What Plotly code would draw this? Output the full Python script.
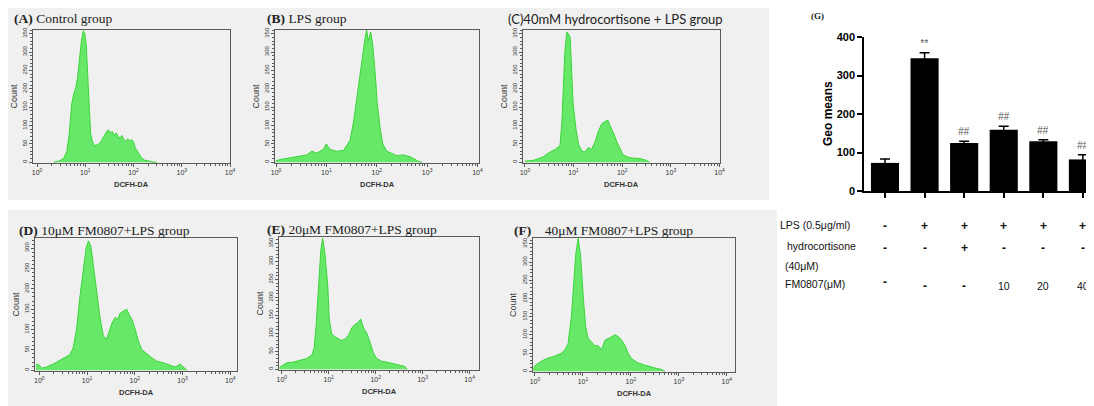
import plotly.graph_objects as go

W, H = 1094, 406          # browser window
OFF = 8                   # page body margin around the plot div
FW, FH = W - OFF, H - OFF # figure size so it fits in the window

# ---------------- data ----------------
# histograms: log10(DCFH-DA fluorescence) and event count
logA = [0.35, 0.45, 0.55, 0.62, 0.67, 0.72, 0.76, 0.80, 0.84, 0.88, 0.92, 0.96, 0.99, 1.02, 1.05, 1.08, 1.11,
        1.15, 1.20, 1.25, 1.30, 1.35, 1.40, 1.45, 1.48, 1.52, 1.56, 1.60, 1.64, 1.68, 1.72, 1.76, 1.80,
        1.84, 1.88, 1.92, 1.96, 2.00, 2.04, 2.08, 2.12, 2.17, 2.22, 2.30, 2.40, 2.48]
cntA = [0, 3, 10, 30, 80, 160, 185, 200, 230, 280, 330, 358, 350, 320, 250, 150, 80,
        55, 45, 48, 52, 62, 75, 85, 88, 80, 84, 72, 80, 70, 66, 73, 62,
        57, 64, 58, 62, 55, 38, 30, 22, 12, 6, 3, 1, 0]

logB = [0.0, 0.10, 0.28, 0.45, 0.61, 0.71, 0.81, 0.94, 1.00, 1.07, 1.20, 1.34, 1.40, 1.47, 1.54, 1.60,
        1.67, 1.72, 1.77, 1.80, 1.83, 1.88, 1.92, 1.97, 2.01, 2.07, 2.12, 2.20, 2.30, 2.40, 2.53,
        2.66, 2.76, 2.83, 2.90]
cntB = [4, 8, 12, 17, 20, 30, 25, 35, 50, 35, 30, 32, 45, 60, 110, 170,
        250, 300, 340, 360, 330, 355, 320, 240, 160, 90, 50, 30, 25, 18, 20,
        15, 8, 2, 0]

logC = [0.0, 0.17, 0.38, 0.48, 0.62, 0.72, 0.76, 0.79, 0.82, 0.86, 0.89, 0.93, 0.96, 0.99, 1.05, 1.10,
        1.17, 1.24, 1.30, 1.37, 1.44, 1.51, 1.58, 1.65, 1.70, 1.75, 1.82, 1.89, 1.96, 2.02, 2.16,
        2.37, 2.50, 2.56]
cntC = [3, 5, 15, 25, 35, 45, 110, 200, 300, 355, 350, 340, 250, 160, 90, 50,
        30, 28, 40, 35, 55, 85, 105, 110, 115, 100, 80, 55, 35, 20, 12,
        10, 5, 0]

logD = [-0.07, 0.0, 0.05, 0.15, 0.29, 0.43, 0.57, 0.64, 0.71, 0.78, 0.85, 0.92, 0.98, 1.03, 1.08, 1.13,
        1.20, 1.27, 1.34, 1.40, 1.45, 1.52, 1.59, 1.64, 1.69, 1.76, 1.83, 1.89, 1.94, 2.01, 2.08,
        2.15, 2.25, 2.36, 2.46, 2.60, 2.74, 2.85, 2.95, 3.02, 3.09]
cntD = [15, 12, 5, 8, 15, 25, 35, 38, 55, 100, 180, 240, 300, 318, 305, 260,
        200, 130, 85, 75, 90, 115, 130, 125, 140, 145, 150, 135, 125, 100, 70,
        50, 40, 30, 22, 18, 12, 8, 15, 8, 0]

logE = [-0.05, 0.0, 0.11, 0.25, 0.39, 0.53, 0.64, 0.69, 0.73, 0.78, 0.83, 0.87, 0.92, 0.98, 1.01, 1.06,
        1.13, 1.21, 1.28, 1.35, 1.42, 1.49, 1.56, 1.63, 1.68, 1.74, 1.81, 1.88, 1.95, 2.02, 2.13,
        2.23, 2.38, 2.52, 2.62, 2.67]
cntE = [5, 10, 18, 20, 25, 30, 40, 60, 120, 220, 330, 365, 320, 230, 140, 100,
        90, 85, 80, 85, 95, 115, 125, 130, 140, 115, 100, 75, 45, 30, 22,
        20, 15, 10, 8, 0]

logF = [-0.03, 0.0, 0.10, 0.24, 0.38, 0.49, 0.56, 0.63, 0.69, 0.76, 0.81, 0.85, 0.90, 0.95, 1.01, 1.06,
        1.11, 1.18, 1.25, 1.32, 1.39, 1.46, 1.53, 1.60, 1.67, 1.74, 1.81, 1.88, 1.94, 2.01, 2.12,
        2.26, 2.40, 2.53, 2.64, 2.71]
cntF = [5, 15, 25, 35, 40, 45, 50, 60, 75, 150, 250, 320, 365, 320, 200, 120,
        90, 80, 70, 70, 60, 85, 90, 95, 100, 95, 85, 70, 50, 35, 25,
        18, 12, 8, 5, 0]

panel_titles = ["<b>(A)</b> Control group", "<b>(B)</b> LPS group",
                "(C)40mM hydrocortisone + LPS group",
                "<b>(D)</b> 10μM FM0807+LPS group", "<b>(E)</b> 20μM FM0807+LPS group",
                "<b>(F)</b>    40μM FM0807+LPS group"]
hist_logs = [logA, logB, logC, logD, logE, logF]
hist_counts = [cntA, cntB, cntC, cntD, cntE, cntF]

# bar chart (G)
bar_groups = ["Control", "LPS", "Hydrocortisone+LPS", "FM0807 10", "FM0807 20", "FM0807 40"]
geo_means = [73, 345, 125, 159, 129, 82]
geo_err = [10, 14, 4, 9, 4, 12]
sig_marks = ["", "**", "##", "##", "##", "##"]
lps_row = ["-", "+", "+", "+", "+", "+"]
hc_row = ["-", "-", "+", "-", "-", "-"]
fm_row = ["-", "-", "-", "10", "20", "40"]
x_tick_vals = [1, 10, 100, 1000, 10000]
x_tick_text = ["10<sup>0</sup>", "10<sup>1</sup>", "10<sup>2</sup>", "10<sup>3</sup>", "10<sup>4</sup>"]

# ---------------- layout helpers (window pixels -> paper) ----------------
def px(x):
    return (x - OFF) / FW

def py(y):
    return 1 - (y - OFF) / FH

# box: left, right, top, bottom (px); x log range; y max; title pos; title font
panels = [
    dict(box=(33, 230, 30, 163), xr=(-0.083, 4.0), ymax=360, yt=350, tx=12, ty=18, font="Liberation Serif"),
    dict(box=(275, 479, 30, 163), xr=(-0.02, 4.03), ymax=360, yt=350, tx=265, ty=18, font="Liberation Serif"),
    dict(box=(523, 720, 30, 163), xr=(-0.04, 4.01), ymax=360, yt=350, tx=506, ty=19, font="Lato"),
    dict(box=(35, 237, 238, 371), xr=(-0.09, 4.14), ymax=325, yt=300, tx=17, ty=230, font="Liberation Serif"),
    dict(box=(279, 479, 237, 370), xr=(-0.06, 4.2), ymax=368, yt=350, tx=265, ty=229, font="Liberation Serif"),
    dict(box=(533, 735, 238, 372), xr=(-0.04, 4.17), ymax=366, yt=350, tx=512, ty=230, font="Liberation Serif"),
]

fig = go.Figure()

GRAY_BG = "#f0f0f0"
fig.add_shape(type="rect", xref="paper", yref="paper", x0=px(0), x1=px(769), y0=py(200), y1=py(0),
              fillcolor=GRAY_BG, line_width=0, layer="below")
fig.add_shape(type="rect", xref="paper", yref="paper", x0=px(0), x1=px(777), y0=py(410), y1=py(210),
              fillcolor=GRAY_BG, line_width=0, layer="below")

minor_x = [m * 10 ** e for e in range(0, 4) for m in range(2, 10)]
annotations = []
box_color = "#5a5a5a"

def ann(**kw):
    d = dict(showarrow=False, xanchor="center", yanchor="middle")
    d.update(kw)
    annotations.append(d)

def sfx(n):
    return "" if n == 1 else str(n)

for i, p in enumerate(panels):
    n = i + 1
    s = sfx(n)
    l, r, t, b = p["box"]
    xs = [10 ** v for v in hist_logs[i]]
    fig.add_trace(go.Scatter(
        x=xs, y=hist_counts[i], mode="lines", fill="tozeroy",
        line=dict(color="rgb(58,212,58)", width=1),
        fillcolor="rgb(104,232,104)", xaxis=f"x{s}", yaxis=f"y{s}", hoverinfo="skip"))
    fig.layout[f"xaxis{s}"] = dict(
        domain=[px(l), px(r)], anchor=f"y{s}", type="log", range=list(p["xr"]), automargin=False,
        showline=True, mirror=True, linecolor=box_color, linewidth=1,
        tickmode="array", tickvals=x_tick_vals, ticktext=x_tick_text,
        ticks="outside", ticklen=3, tickcolor=box_color,
        tickfont=dict(size=7, family="Liberation Sans", color="#333"),
        minor=dict(ticks="outside", ticklen=2, tickmode="array", tickvals=minor_x, tickcolor=box_color),
        showgrid=False, zeroline=False)
    fig.layout[f"yaxis{s}"] = dict(
        domain=[py(b), py(t)], anchor=f"x{s}", range=[-2, p["ymax"]], automargin=False,
        showline=True, mirror=True, linecolor=box_color, linewidth=1,
        tickmode="array", tickvals=list(range(0, p["yt"] + 1, 50)),
        ticks="outside", ticklen=3, tickcolor=box_color, tickangle=-90,
        tickfont=dict(size=6, family="Liberation Sans", color="#333"),
        minor=dict(ticks="outside", ticklen=2, dtick=10, tick0=0, tickcolor=box_color),
        showgrid=False, zeroline=False)
    ann(text=panel_titles[i], xref="paper", yref="paper", x=px(p["tx"]), y=py(p["ty"]), xanchor="left",
        font=dict(family=p["font"], size=13.5 if p["font"] != "Lato" else 13, color="#222"))
    ann(text="Count", xref="paper", yref=f"y{s} domain", x=px(l - 20), y=0.5, textangle=-90,
        font=dict(family="Liberation Sans", size=9, color="#333"))
    ann(text="<b>DCFH-DA</b>", xref=f"x{s} domain", yref="paper", x=0.5, y=py(b + 21),
        font=dict(family="Liberation Sans", size=7.5, color="#333"))

# ---------------- bar chart (G) ----------------
cats = list(range(len(geo_means)))
fig.add_trace(go.Bar(
    x=cats, y=geo_means, width=0.71, marker=dict(color="black", line=dict(width=0)),
    error_y=dict(type="data", array=geo_err, color="black", thickness=1.5, width=5),
    xaxis="x7", yaxis="y7", hoverinfo="skip"))
fig.layout["xaxis7"] = dict(
    domain=[px(864), 1.0], anchor="y7", range=[-0.53, 5.28], automargin=False,
    showline=True, linecolor="black", linewidth=1.5,
    tickmode="array", tickvals=cats, ticks="outside", ticklen=5, tickwidth=1.5, tickcolor="black",
    showticklabels=False, showgrid=False, zeroline=False)
fig.layout["yaxis7"] = dict(
    domain=[py(191), py(37)], anchor="x7", range=[0, 400], automargin=False,
    showline=True, linecolor="black", linewidth=1.5,
    tickmode="array", tickvals=[0, 100, 200, 300, 400], ticks="outside", ticklen=5, tickwidth=1.5,
    tickcolor="black", tickfont=dict(family="Liberation Sans", size=11, color="black", weight="bold"),
    showgrid=False, zeroline=False)

for c, v, e, sm in zip(cats, geo_means, geo_err, sig_marks):
    if sm:
        ann(text=f"<i>{sm}</i>", x=c, y=v + e, xref="x7", yref="y7", yanchor="bottom", yshift=2,
            font=dict(family="Liberation Sans", size=10, color="#555"))

ann(text="<b>(G)</b>", xref="paper", yref="paper", x=px(817), y=py(16),
    font=dict(family="Liberation Serif", size=9, color="#222"))
ann(text="<b>Geo means</b>", xref="paper", yref="paper", x=px(828), y=py(114), textangle=-90,
    font=dict(family="Liberation Sans", size=12, color="black"))

tfont = dict(family="Liberation Sans", size=10.5, color="#111")
ann(text="LPS (0.5μg/ml)", xref="paper", yref="paper", x=px(778), y=py(225), xanchor="left", font=tfont)
ann(text="hydrocortisone", xref="paper", yref="paper", x=px(785), y=py(246), xanchor="left", font=tfont)
ann(text="(40μM)", xref="paper", yref="paper", x=px(783), y=py(266), xanchor="left", font=tfont)
ann(text="FM0807(μM)", xref="paper", yref="paper", x=px(783), y=py(284), xanchor="left", font=tfont)
sign_font = dict(family="Liberation Sans", size=12, color="#111")
for c, a, b2, f in zip(cats, lps_row, hc_row, fm_row):
    ann(text=f"<b>{a}</b>", x=c, xref="x7", yref="paper", y=py(226), font=sign_font)
    ann(text=f"<b>{b2}</b>", x=c, xref="x7", yref="paper", y=py(248), font=sign_font)
    is_num = f != "-"
    ann(text=(f if is_num else f"<b>{f}</b>"), x=c, xref="x7", yref="paper",
        y=py(286 if (is_num or c > 0) else 282), font=tfont if is_num else sign_font)

fig.update_layout(
    width=FW, height=FH, margin=dict(l=0, r=0, t=0, b=0, autoexpand=False),
    paper_bgcolor="white", plot_bgcolor="rgba(0,0,0,0)",
    showlegend=False, annotations=annotations, bargap=0.3)

fig.write_html("out.html")
